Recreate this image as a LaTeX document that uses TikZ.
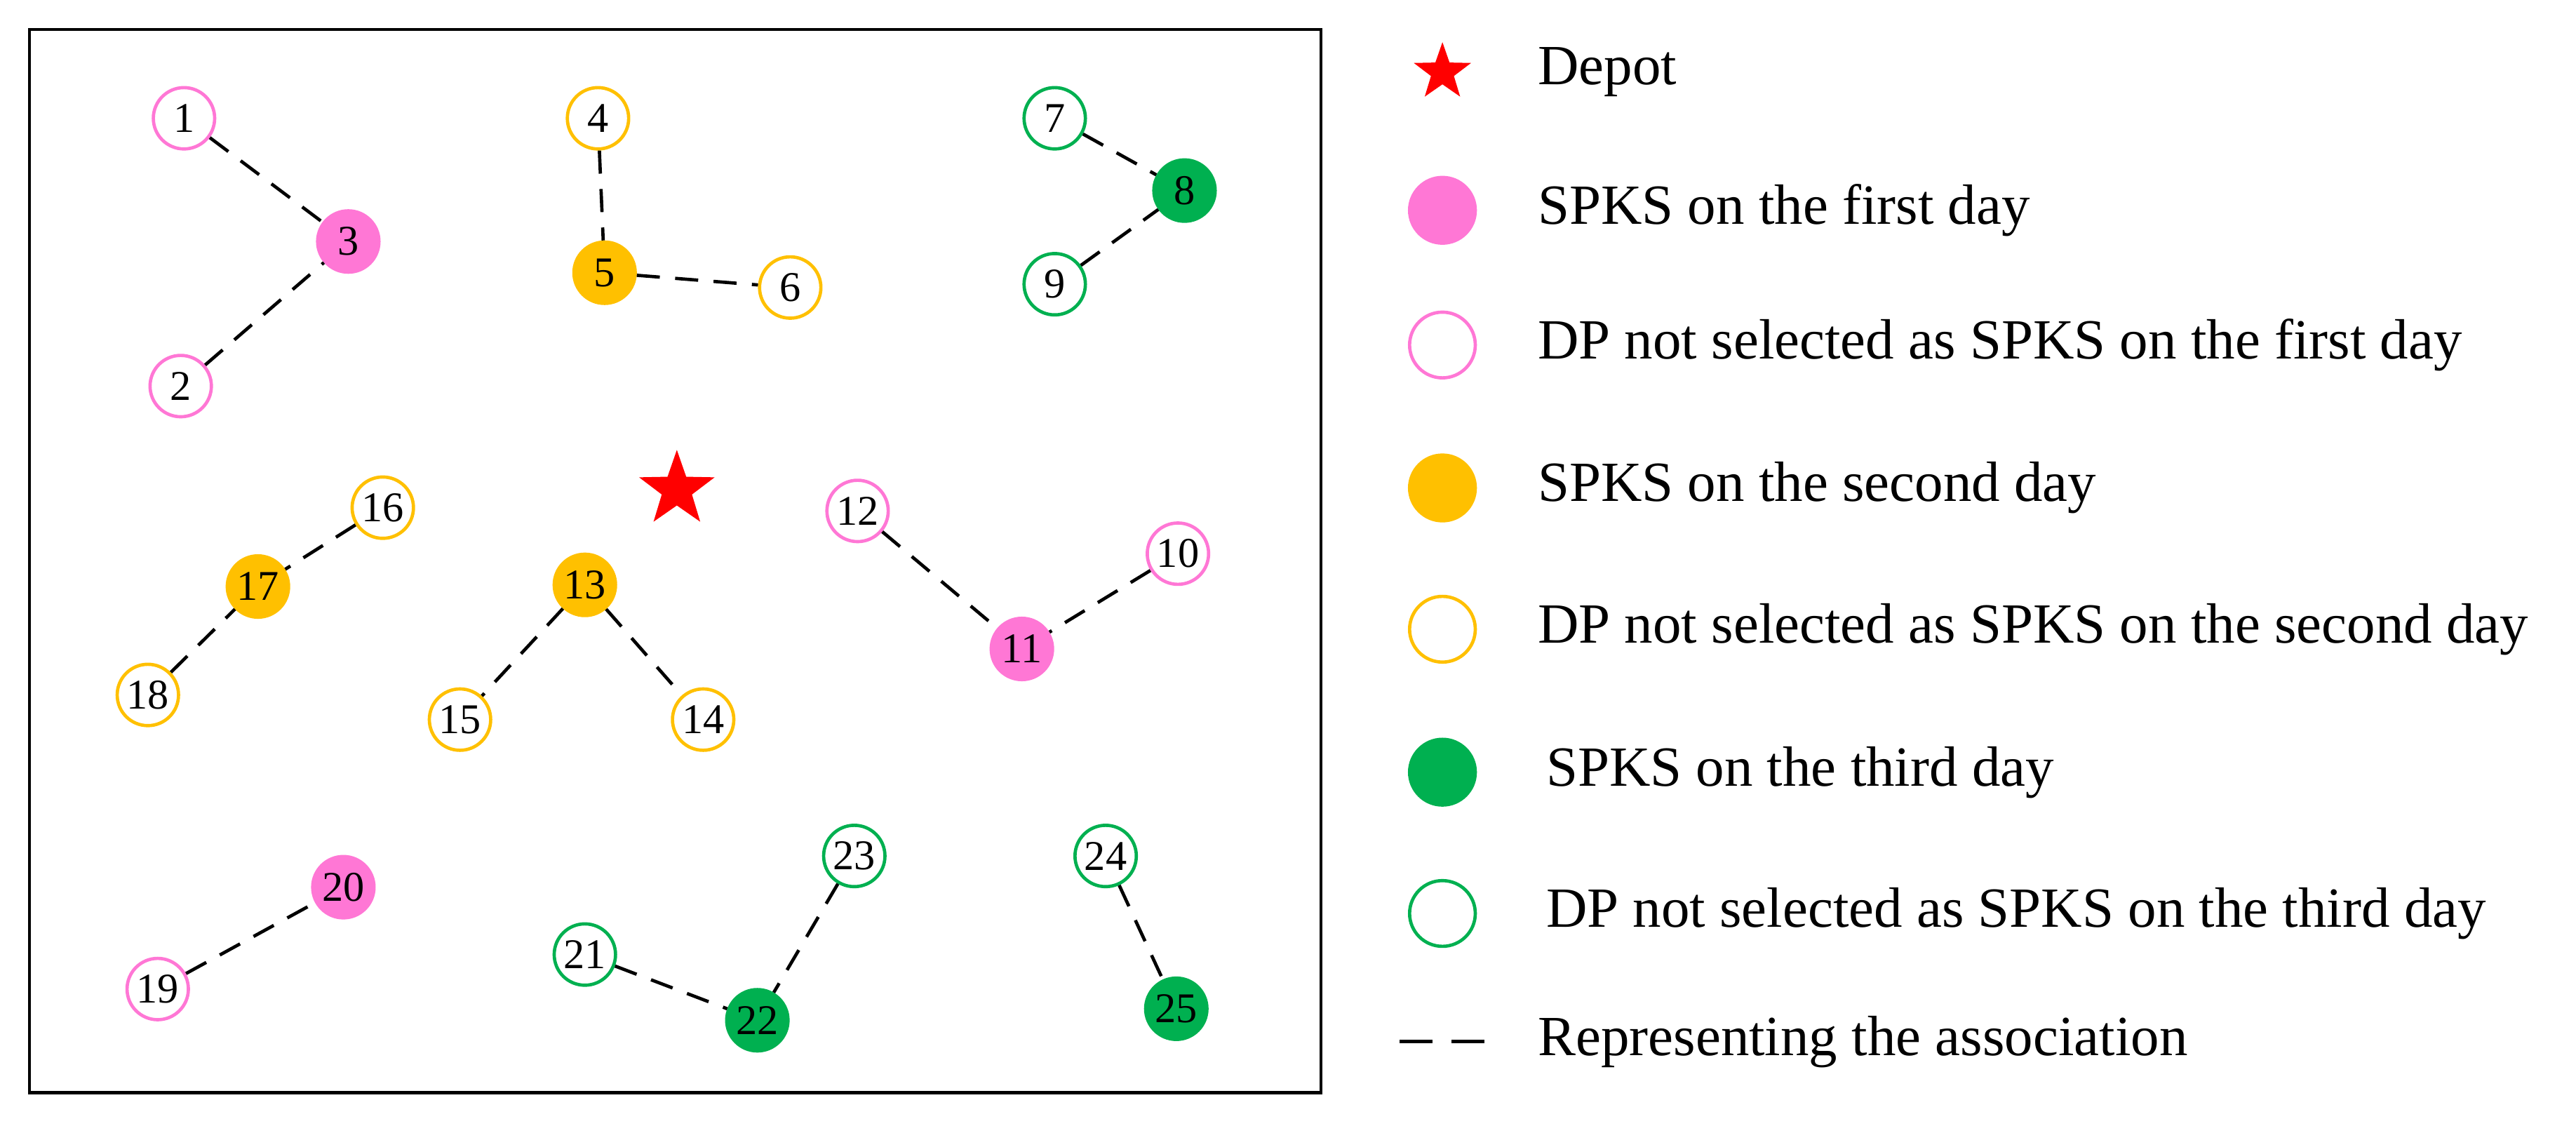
\documentclass[tikz,border=0pt]{standalone}
\usepackage{fontspec}
\setmainfont{Liberation Serif}
\usetikzlibrary{shapes.geometric}
\definecolor{pk}{HTML}{FF77D5}
\definecolor{og}{HTML}{FFC000}
\definecolor{gn}{HTML}{00B050}
\begin{document}
\begin{tikzpicture}[x=0.03cm,y=-0.03cm,
 dp/.style={circle,draw=#1,line width=1.7pt,fill=white,minimum size=1.12cm,inner sep=0pt,font=\fontsize{22}{22}\selectfont},
 sp/.style={circle,draw=#1,fill=#1,line width=1.7pt,minimum size=1.12cm,inner sep=0pt,font=\fontsize{22}{22}\selectfont},
 as/.style={line width=1.7pt,dash pattern=on 12pt off 8pt},
 lt/.style={anchor=west,font=\fontsize{29.5}{29.5}\selectfont}]
\useasboundingbox (0,0) rectangle (1568,685);
\draw[line width=1.6pt] (18,18) rectangle (804,665);
\node[dp=pk] (n1) at (112,72) {1};
\node[dp=pk] (n2) at (110,235) {2};
\node[sp=pk] (n3) at (212,147) {3};
\node[dp=og] (n4) at (364,72) {4};
\node[sp=og] (n5) at (368,166) {5};
\node[dp=og] (n6) at (481,175) {6};
\node[dp=gn] (n7) at (642,72) {7};
\node[sp=gn] (n8) at (721,116) {8};
\node[dp=gn] (n9) at (642,173) {9};
\node[star,star points=5,star point ratio=2.5,fill=red,inner sep=0pt,minimum size=1.45cm] (dep) at (412,298) {};
\node[dp=pk] (n12) at (522,311) {12};
\node[dp=pk] (n10) at (717,337) {10};
\node[sp=pk] (n11) at (622,395) {11};
\node[dp=og] (n16) at (233,309) {16};
\node[sp=og] (n17) at (157,357) {17};
\node[dp=og] (n18) at (90,423) {18};
\node[sp=og] (n13) at (356,356) {13};
\node[dp=og] (n15) at (280,438) {15};
\node[dp=og] (n14) at (428,438) {14};
\node[sp=pk] (n20) at (209,540) {20};
\node[dp=pk] (n19) at (96,602) {19};
\node[dp=gn] (n21) at (356,581) {21};
\node[sp=gn] (n22) at (461,621) {22};
\node[dp=gn] (n23) at (520,521) {23};
\node[dp=gn] (n24) at (673,521) {24};
\node[sp=gn] (n25) at (716,614) {25};
\foreach \a/\b in {n1/n3,n2/n3,n4/n5,n5/n6,n7/n8,n9/n8,n12/n11,n10/n11,n16/n17,n18/n17,n13/n15,n13/n14,n19/n20,n21/n22,n23/n22,n24/n25}
  \draw[as] (\a) -- (\b);
% legend
\node[star,star points=5,star point ratio=2.5,fill=red,inner sep=0pt,minimum size=1.1cm] (l0) at (878,44) {};
\node[sp=pk,minimum size=1.2cm] (l1) at (878,128) {};
\node[dp=pk,minimum size=1.2cm] (l2) at (878,210) {};
\node[sp=og,minimum size=1.2cm] (l3) at (878,297) {};
\node[dp=og,minimum size=1.2cm] (l4) at (878,383) {};
\node[sp=gn,minimum size=1.2cm] (l5) at (878,470) {};
\node[dp=gn,minimum size=1.2cm] (l6) at (878,556) {};
\coordinate (la) at (852,634); \coordinate (lb) at (905,634);
\draw[line width=1.7pt,dash pattern=on 17pt off 10pt] (la) -- (lb);
\node[lt] (t0) at (932,44) {Depot};
\node[lt] (t1) at (932,128) {SPKS on the first day};
\node[lt] (t2) at (932,210) {DP not selected as SPKS on the first day};
\node[lt] (t3) at (932,297) {SPKS on the second day};
\node[lt] (t4) at (932,383) {DP not selected as SPKS on the second day};
\node[lt] (t5) at (937,470) {SPKS on the third day};
\node[lt] (t6) at (937,556) {DP not selected as SPKS on the third day};
\node[lt] (t7) at (932,634) {Representing the association};
\end{tikzpicture}
\end{document}
